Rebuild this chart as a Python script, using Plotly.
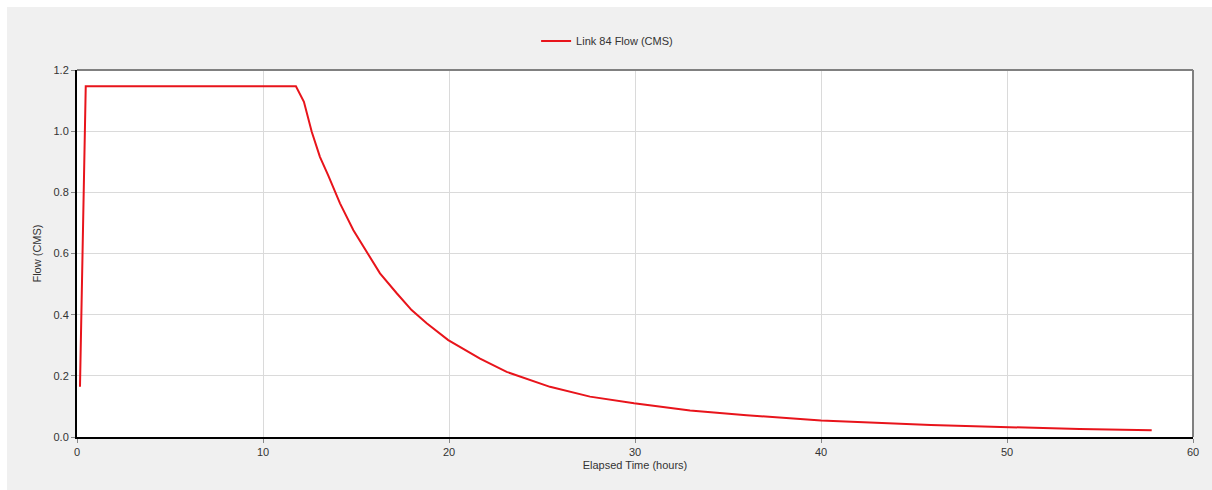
import plotly.graph_objects as go

# Data
hours = [0.16, 0.47, 11.77, 12.2, 12.62, 13.06, 13.5, 14.14, 14.86, 15.66, 16.29,
         17.19, 17.99, 18.8, 19.96, 21.67, 23.1, 25.43, 27.58, 29.95, 32.96,
         36.0, 40.0, 45.9, 50.0, 53.9, 57.78]
flow = [0.164, 1.147, 1.147, 1.096, 0.998, 0.916, 0.856, 0.764, 0.676, 0.595, 0.535,
        0.470, 0.415, 0.372, 0.317, 0.256, 0.213, 0.164, 0.132, 0.110, 0.087,
        0.071, 0.054, 0.039, 0.032, 0.026, 0.022]
series_name = "Link 84 Flow (CMS)"
x_ticks = [0, 10, 20, 30, 40, 50, 60]
y_ticks = [0.0, 0.2, 0.4, 0.6, 0.8, 1.0, 1.2]

FONT = "Liberation Sans, Arial, sans-serif"

fig = go.Figure()
fig.add_trace(go.Scatter(x=hours, y=flow, mode="lines", name=series_name,
                         line=dict(color="#e8141b", width=2)))

axis_common = dict(
    showgrid=True, gridcolor="#dadada", gridwidth=1,
    showline=True, linecolor="#000000", linewidth=2,
    ticks="outside", ticklen=4, tickcolor="#888888",
    tickfont=dict(family=FONT, size=11, color="#333333"),
    zeroline=False,
)

fig.update_layout(
    width=1212, height=490,
    margin=dict(l=77, r=19, t=70, b=53),
    paper_bgcolor="#f0f0f0",
    plot_bgcolor="#ffffff",
    showlegend=True,
    legend=dict(orientation="h", x=0.475, xanchor="center", y=1.079, yanchor="middle",
                bgcolor="rgba(0,0,0,0)",
                font=dict(family=FONT, size=11, color="#333333")),
    xaxis=dict(range=[0, 60], tickvals=x_ticks,
               title=dict(text="Elapsed Time (hours)", standoff=4,
                          font=dict(family=FONT, size=11, color="#333333")),
               **axis_common),
    yaxis=dict(range=[0, 1.2], tickvals=y_ticks, tickformat=".1f",
               title=dict(text="Flow (CMS)", standoff=10,
                          font=dict(family=FONT, size=11, color="#333333")),
               **axis_common),
    shapes=[
        # thin white frame along the top and left edges of the image
        dict(type="rect", xref="paper", yref="paper", x0=-0.1, x1=1.1,
             y0=1.1717, y1=1.3, fillcolor="#ffffff", line=dict(width=0), layer="below"),
        dict(type="rect", xref="paper", yref="paper", x0=-0.1, x1=-0.0627,
             y0=-0.3, y1=1.3, fillcolor="#ffffff", line=dict(width=0), layer="below"),
        dict(type="line", xref="paper", yref="paper", x0=0, x1=1, y0=1, y1=1,
             line=dict(color="#808080", width=2)),
        dict(type="line", xref="paper", yref="paper", x0=1, x1=1, y0=0, y1=1,
             line=dict(color="#808080", width=2)),
    ],
)

fig.write_html("out.html")
